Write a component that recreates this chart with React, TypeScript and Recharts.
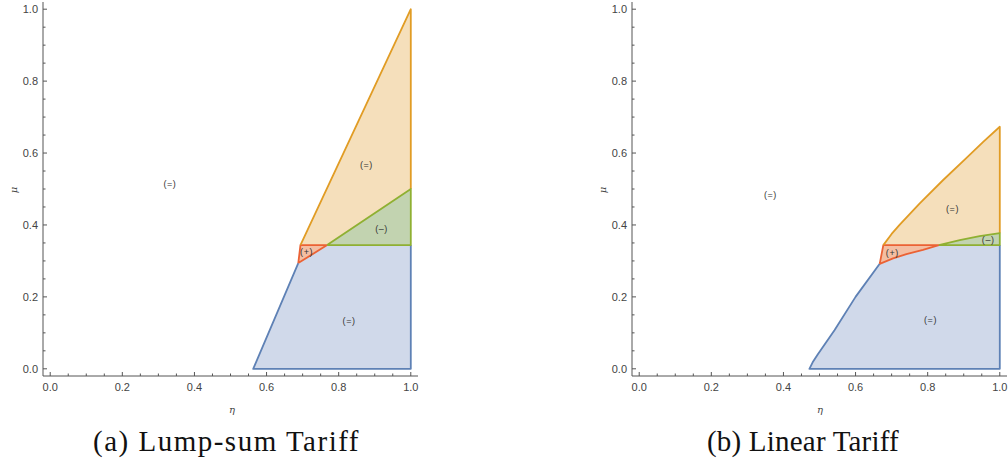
import React from "react";
import { ComposedChart, Area, Line, XAxis, YAxis, ReferenceDot } from "recharts";

// boundaries, as [eta, mu] pairs

// (a) lump-sum tariff
const aOrangeTop = [[0.694, 0.344], [1.0, 1.0]];
const aGreenTop = [[0.768, 0.344], [1.0, 0.5]];
const aRedTop = [[0.688, 0.294], [0.694, 0.344], [0.768, 0.344]];
const aBlueTop = [[0.563, 0], [0.688, 0.294], [0.768, 0.344], [1.0, 0.344]];
const aBlueLine = [[0.688, 0.294], [0.563, 0], [1.0, 0], [1.0, 0.344]];
const aRedLine = [[0.688, 0.294], [0.694, 0.344], [0.768, 0.344], [0.688, 0.294]];
const aOrangeLine = [[0.694, 0.344], [1.0, 1.0], [1.0, 0.5]];
const aGreenLine = [[0.768, 0.344], [1.0, 0.5], [1.0, 0.344], [0.768, 0.344]];
const aLabels = [
  { x: 0.332, y: 0.514, text: "(=)" },
  { x: 0.877, y: 0.567, text: "(=)" },
  { x: 0.919, y: 0.389, text: "(–)" },
  { x: 0.711, y: 0.324, text: "(+)" },
  { x: 0.829, y: 0.134, text: "(=)" },
];

// (b) linear tariff
const bOrangeTop = [[0.677, 0.344], [0.7, 0.375], [0.722, 0.4], [0.778, 0.46], [0.843, 0.525], [0.907, 0.586], [0.954, 0.631], [1.0, 0.673]];
const bGreenTop = [[0.831, 0.344], [0.889, 0.358], [0.944, 0.369], [1.0, 0.377]];
const bRedTop = [[0.667, 0.292], [0.677, 0.344], [0.831, 0.344]];
const bRedLow = [[0.667, 0.292], [0.704, 0.307], [0.741, 0.319], [0.787, 0.331], [0.831, 0.344]];
const bBlueEdge = [[0.472, 0], [0.481, 0.018], [0.495, 0.04], [0.542, 0.108], [0.6, 0.2], [0.667, 0.292]];
const bLabels = [
  { x: 0.364, y: 0.483, text: "(=)" },
  { x: 0.869, y: 0.444, text: "(=)" },
  { x: 0.968, y: 0.358, text: "(–)" },
  { x: 0.702, y: 0.321, text: "(+)" },
  { x: 0.808, y: 0.136, text: "(=)" },
];

const tickValues = [0, 0.05, 0.1, 0.15, 0.2, 0.25, 0.3, 0.35, 0.4, 0.45, 0.5, 0.55, 0.6, 0.65, 0.7, 0.75, 0.8, 0.85, 0.9, 0.95, 1.0];
const majorTicks = [0, 0.2, 0.4, 0.6, 0.8, 1.0];
const tickLabels = ["0.0", "0.2", "0.4", "0.6", "0.8", "1.0"];

const DOMAIN = [-0.02, 1.02];
const FRAME = "#555";
const TICK_TEXT = "#444";
const SANS = "'Liberation Sans', Arial, sans-serif";
const SERIF = "'Liberation Serif', 'Times New Roman', Tinos, 'DejaVu Serif', 'Noto Serif', serif";

const BLUE = "#5e81b5", ORANGE = "#e19c24", GREEN = "#8fb032", RED = "#eb6235";
const BLUE_F = "#d0d9ea", ORANGE_F = "#f5dfbb", GREEN_F = "#c2d3b0", RED_F = "#f4bea2";

const toData = (p: number[][]) => p.map(([x, y]) => ({ x, y }));

function labelFor(v: number) {
  const i = majorTicks.findIndex((m) => Math.abs(m - v) < 1e-6);
  return i >= 0 ? tickLabels[i] : null;
}

// Mathematica style frame ticks, pointing inward
function makeTick(side: "bottom" | "left" | "top" | "right") {
  return (p: any) => {
    const { x, y, payload } = p;
    const lab = labelFor(payload.value);
    const len = lab ? 4 : 2.5;
    let line;
    if (side === "bottom") line = <line x1={x} x2={x} y1={y} y2={y - len} />;
    else if (side === "top") line = <line x1={x} x2={x} y1={y} y2={y + len} />;
    else if (side === "left") line = <line x1={x} x2={x + len} y1={y} y2={y} />;
    else line = <line x1={x} x2={x - len} y1={y} y2={y} />;
    return (
      <g stroke={FRAME} strokeWidth={1}>
        {line}
        {lab && side === "bottom" && (
          <text x={x} y={y + 15} textAnchor="middle" stroke="none" fill={TICK_TEXT} fontSize={11} style={{ fontFamily: SANS }}>{lab}</text>
        )}
        {lab && side === "left" && (
          <text x={x - 5} y={y + 4} textAnchor="end" stroke="none" fill={TICK_TEXT} fontSize={11} style={{ fontFamily: SANS }}>{lab}</text>
        )}
      </g>
    );
  };
}

function RegionLabel(props: any) {
  const { viewBox, value } = props;
  const cx = viewBox.x + (viewBox.width || 0) / 2;
  const cy = viewBox.y + (viewBox.height || 0) / 2;
  return (
    <text x={cx} y={cy + 3} textAnchor="middle" fontSize={9} fill="#333" letterSpacing={0.6} style={{ fontFamily: SANS }}>{value}</text>
  );
}

type PanelProps = {
  fills: { top: number[][]; color: string }[];
  lines: { pts: number[][]; color: string }[];
  labels: { x: number; y: number; text: string }[];
  width: number;
};

function Panel({ fills, lines, labels, width }: PanelProps) {
  return (
    <ComposedChart width={width} height={410} margin={{ top: 2, right: width - 418, left: 0, bottom: 0 }}>
      <XAxis dataKey="x" type="number" domain={DOMAIN} allowDataOverflow ticks={tickValues} interval={0}
        tickSize={0} tickMargin={0} height={34} axisLine={{ stroke: FRAME }} tick={makeTick("bottom")} />
      <YAxis dataKey="y" type="number" domain={DOMAIN} allowDataOverflow ticks={tickValues} interval={0}
        tickSize={0} tickMargin={0} width={43} axisLine={{ stroke: FRAME }} tick={makeTick("left")} />
      <XAxis xAxisId="top" orientation="top" type="number" domain={DOMAIN} allowDataOverflow ticks={tickValues} interval={0}
        tickSize={0} tickMargin={0} height={0} axisLine={{ stroke: FRAME }} tick={makeTick("top")} />
      <YAxis yAxisId="right" orientation="right" type="number" domain={DOMAIN} allowDataOverflow ticks={tickValues} interval={0}
        tickSize={0} tickMargin={0} width={0} axisLine={{ stroke: FRAME }} tick={makeTick("right")} />
      {fills.map((f, i) => (
        <Area key={"f" + i} data={toData(f.top)} dataKey="y" type="linear" baseValue={0}
          fill={f.color} fillOpacity={1} stroke="none" isAnimationActive={false} />
      ))}
      {lines.map((l, i) => (
        <Line key={"l" + i} data={toData(l.pts)} dataKey="y" type="linear" stroke={l.color} strokeWidth={1.8}
          strokeLinejoin="round" dot={false} activeDot={false} isAnimationActive={false} />
      ))}
      {labels.map((lb, i) => (
        <ReferenceDot key={"t" + i} x={lb.x} y={lb.y} r={0} fill="none" stroke="none"
          label={<RegionLabel value={lb.text} />} />
      ))}
    </ComposedChart>
  );
}

export default function App() {
  const fillsA = [
    { top: aOrangeTop, color: ORANGE_F },
    { top: aGreenTop, color: GREEN_F },
    { top: aRedTop, color: RED_F },
    { top: aBlueTop, color: BLUE_F },
  ];
  const linesA = [
    { pts: aBlueLine, color: BLUE },
    { pts: aRedLine, color: RED },
    { pts: aOrangeLine, color: ORANGE },
    { pts: aGreenLine, color: GREEN },
  ];
  const bBlueTop = [...bBlueEdge, ...bRedLow.slice(1), [1.0, 0.344]];
  const fillsB = [
    { top: bOrangeTop, color: ORANGE_F },
    { top: bGreenTop, color: GREEN_F },
    { top: bRedTop, color: RED_F },
    { top: bBlueTop, color: BLUE_F },
  ];
  const linesB = [
    { pts: [...bBlueEdge].reverse().concat([[1.0, 0], [1.0, 0.344]]), color: BLUE },
    { pts: [...bRedTop, ...[...bRedLow].reverse()], color: RED },
    { pts: [...bOrangeTop, [1.0, 0.377]], color: ORANGE },
    { pts: [...bGreenTop, [1.0, 0.344], [0.831, 0.344]], color: GREEN },
  ];

  const greek = { fontFamily: "'DejaVu Serif', serif" };
  const caption = (left: number, w: number, spacing: number): React.CSSProperties => ({
    position: "absolute", left, top: 424, width: w, fontFamily: SERIF, fontSize: 29,
    lineHeight: "34px", whiteSpace: "nowrap", letterSpacing: spacing, color: "#111",
  });
  return (
    <div style={{ position: "absolute", left: 0, top: 0, width: 1008, height: 464, overflow: "hidden", background: "#fff" }}>
      <div style={{ position: "absolute", left: 0, top: 0 }}>
        <Panel fills={fillsA} lines={linesA} labels={aLabels} width={430} />
      </div>
      <div style={{ position: "absolute", left: 589, top: 0 }}>
        <Panel fills={fillsB} lines={linesB} labels={bLabels} width={419} />
      </div>
      <svg width={1008} height={464} style={{ position: "absolute", left: 0, top: 0, pointerEvents: "none" }}>
        <text x={232} y={413} textAnchor="middle" fontSize={10} fontStyle="italic" fill="#444" style={greek}>η</text>
        <text x={820} y={413} textAnchor="middle" fontSize={10} fontStyle="italic" fill="#444" style={greek}>η</text>
        <text x={0} y={0} transform="translate(17,190) rotate(-90)" textAnchor="middle" fontSize={10} fontStyle="italic" fill="#444" style={greek}>μ</text>
        <text x={0} y={0} transform="translate(606,190) rotate(-90)" textAnchor="middle" fontSize={10} fontStyle="italic" fill="#444" style={greek}>μ</text>
      </svg>
      <div style={caption(93, 270, 1.5)}>(a) Lump-sum Tariff</div>
      <div style={caption(707, 200, 0.2)}>(b) Linear Tariff</div>
    </div>
  );
}
